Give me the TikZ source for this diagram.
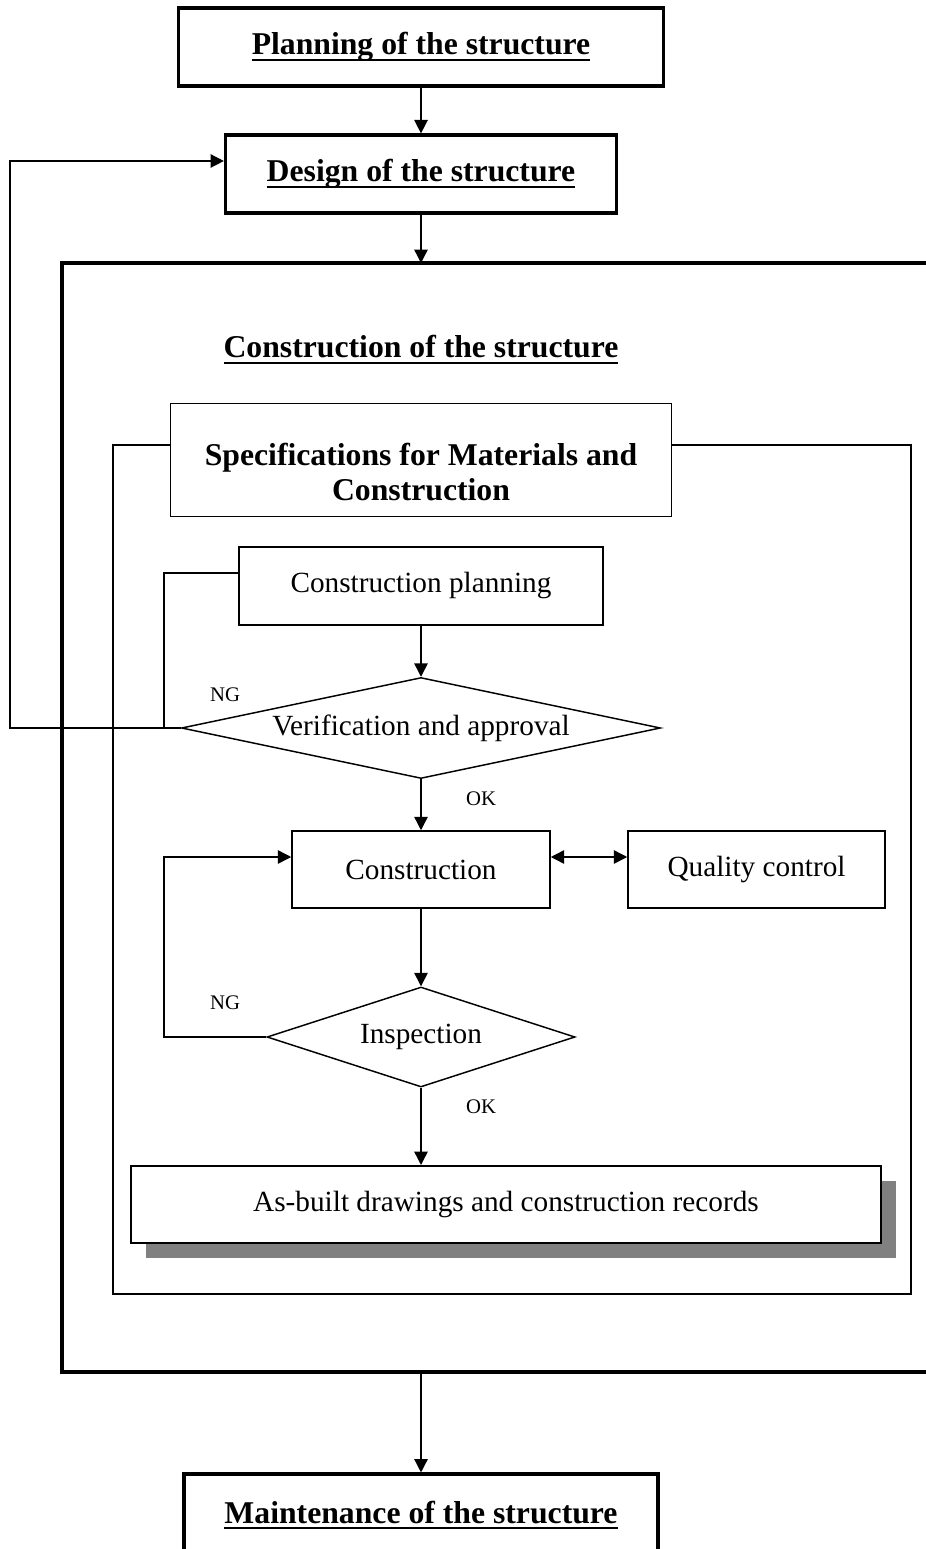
\documentclass[tikz,border=0pt]{standalone}
\usepackage{fontspec}
\setmainfont{Liberation Serif}
\usetikzlibrary{shapes}
\usetikzlibrary{arrows.meta}
\usetikzlibrary{shadows}
\newcommand{\uln}[1]{\setbox0\hbox{#1}\rlap{\rule[-2.6pt]{\wd0}{1pt}}\box0}
\tikzset{
  basenode/.style = {align=center, inner sep=0pt, text centered,
    font=\fontsize{12}{14}\selectfont},
  title_box/.style = {basenode, rectangle, draw=black, line width=1.3pt,
    font=\fontsize{13}{15}\selectfont\bfseries},% bloc principal, titre souligne
  step_box/.style = {basenode, rectangle, draw=black, line width=0.6pt,
    fill=white},% etape simple
  check_node/.style = {basenode, diamond, draw=black, line width=0.6pt,
    fill=white},% decision
  tag_node/.style = {basenode, font=\fontsize{8.5}{10}\selectfont},% NG / OK
  flow/.style = {line width=0.6pt, -{Triangle[width=5.5pt,length=5.5pt]}},
  plain_line/.style = {line width=0.6pt}
}
\begin{document}
\begin{tikzpicture}[x=0.41pt, y=-0.41pt]
  \useasboundingbox (0,0) rectangle (926,1549);
  \clip (0,0) rectangle (926,1549);
  % blocs principaux
  \node [title_box, minimum width=198.9pt, minimum height=32pt] (plan) at (421,47)
    {\uln{Planning of the structure}};
  \node [title_box, minimum width=160.3pt, minimum height=32pt] (design) at (421,174)
    {\uln{Design of the structure}};
  \draw [line width=1.3pt] (940,263) -- (62,263) -- (62,1372) -- (940,1372);
  \coordinate (cons_top) at (421,263);
  \coordinate (cons_bot) at (421,1372);
  \node [basenode, font=\fontsize{13}{15}\selectfont\bfseries] (cons_title) at (421,350)
    {\uln{Construction of the structure}};
  \node [title_box, minimum width=194.3pt, minimum height=33.6pt] (maint) at (421,1515)
    {\uln{Maintenance of the structure}};
  % cadre des specifications
  \draw [plain_line] (113,445) rectangle (911,1294);
  \node [step_box, minimum width=205.4pt, minimum height=46.3pt] (spec) at (421,460) {};
  \node [basenode, font=\fontsize{13}{14.4}\selectfont\bfseries] (spec_txt) at (421,472)
    {Specifications for Materials and\\Construction};
  % etapes
  \node [step_box, minimum width=149.2pt, minimum height=32pt] (cplan) at (421,586)
    {Construction planning};
  \node [check_node, aspect=4.74, minimum width=196.4pt, minimum height=41.4pt] (verif)
    at (421,728) {Verification and approval};
  \node [step_box, minimum width=105.8pt, minimum height=31.6pt] (constr) at (421,869.5)
    {Construction};
  \node [step_box, minimum width=105.4pt, minimum height=31.6pt] (qc) at (756.5,869.5)
    {Quality control};
  \node [check_node, aspect=3.08, minimum width=126.3pt, minimum height=41pt] (insp)
    at (421,1037) {Inspection};
  \node [step_box, line width=0.8pt, minimum width=307.5pt, minimum height=31.6pt,
    drop shadow={shadow xshift=6.15pt, shadow yshift=-6.15pt, fill=black!50, opacity=1}]
    (asb) at (506,1204.5) {As-built drawings and construction records};
  \node [tag_node] (ng_a) at (225,695) {NG};
  \node [tag_node] (ok_a) at (481,799) {OK};
  \node [tag_node] (ng_b) at (225,1003) {NG};
  \node [tag_node] (ok_b) at (481,1107) {OK};
  % liaisons
  \coordinate (back_a) at (10,161);
  \coordinate (cp_turn) at (164,573);
  \coordinate (back_b) at (164,857);
  \draw [flow] (plan) -- (design);
  \draw [flow] (design) -- (cons_top);
  \draw [flow] (cplan) -- (verif);
  \draw [flow] (verif) -- (constr);
  \draw [flow] (constr) -- (insp);
  \draw [flow] (insp) -- (insp.south |- asb.north);
  \draw [flow] (cons_bot) -- (maint);
  \draw [flow] (verif.west) -| (back_a) -- (design.west |- back_a);
  \draw [plain_line] (cplan.west |- cp_turn) -- (cp_turn) |- (verif.west);
  \draw [flow] (insp.west) -| (back_b) -- (constr.west |- back_b);
  \draw [flow, {Triangle[width=5.5pt,length=5.5pt]}-{Triangle[width=5.5pt,length=5.5pt]}]
    (constr.east |- back_b) -- (qc.west |- back_b);
\end{tikzpicture}
\end{document}
